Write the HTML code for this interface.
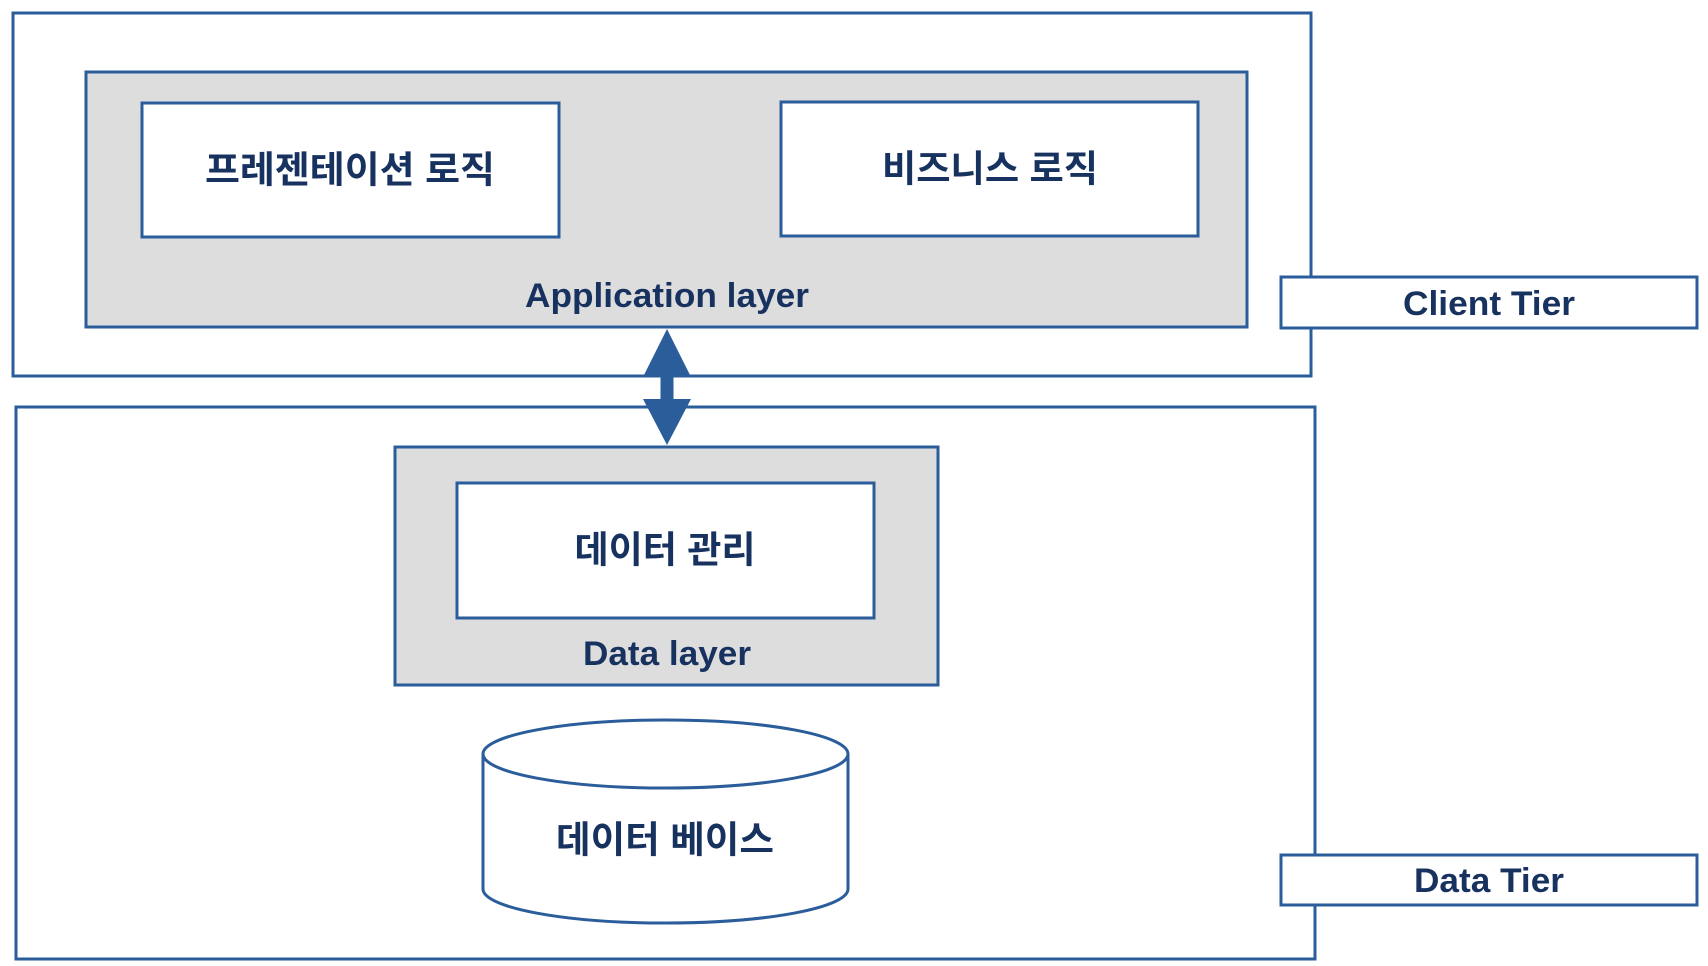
<!DOCTYPE html>
<html><head><meta charset="utf-8"><style>
html,body{margin:0;padding:0;background:#fff;}
svg{display:block}
text{font-family:"Liberation Sans","Noto Sans CJK KR","NanumGothic",sans-serif;font-weight:bold;fill:#17325f;text-anchor:middle;dominant-baseline:central}
</style></head><body>
<svg width="1708" height="966" viewBox="0 0 1708 966" xmlns="http://www.w3.org/2000/svg">
<g fill="none" stroke="#2b5d9b" stroke-width="3">
<rect x="13" y="13" width="1298" height="363" fill="#fff"/>
<rect x="86" y="72" width="1161" height="255" fill="#dddddd"/>
<rect x="142" y="103" width="417" height="134" fill="#fff"/>
<rect x="781" y="102" width="417" height="134" fill="#fff"/>
<rect x="1281" y="277" width="416" height="51" fill="#fff"/>
<rect x="16" y="407" width="1299" height="552" fill="#fff"/>
<rect x="395" y="447" width="543" height="238" fill="#dddddd"/>
<rect x="457" y="483" width="417" height="135" fill="#fff"/>
<rect x="1281" y="855" width="416" height="50" fill="#fff"/>
<path d="M483 754 L483 889 A182.5 34 0 0 0 848 889 L848 754" fill="#fff"/>
<ellipse cx="665.5" cy="754" rx="182.5" ry="34" fill="#fff"/>
</g>
<path d="M667 329 L691 377 L673.5 377 L673.5 399 L691 399 L667 445 L643 399 L660.5 399 L660.5 377 L643 377 Z" fill="#2b5d9b"/>
<text x="350" y="170" font-size="37" textLength="290" lengthAdjust="spacingAndGlyphs">프레젠테이션 로직</text>
<text x="990" y="169" font-size="37" textLength="216" lengthAdjust="spacingAndGlyphs">비즈니스 로직</text>
<text x="667" y="296" font-size="34" textLength="284" lengthAdjust="spacingAndGlyphs">Application layer</text>
<text x="1489" y="304" font-size="34" textLength="172" lengthAdjust="spacingAndGlyphs">Client Tier</text>
<text x="665" y="550" font-size="37" textLength="181" lengthAdjust="spacingAndGlyphs">데이터 관리</text>
<text x="667" y="654" font-size="34" textLength="168" lengthAdjust="spacingAndGlyphs">Data layer</text>
<text x="665" y="840" font-size="37" textLength="218" lengthAdjust="spacingAndGlyphs">데이터 베이스</text>
<text x="1489" y="881" font-size="34" textLength="150" lengthAdjust="spacingAndGlyphs">Data Tier</text>
</svg>
</body></html>
